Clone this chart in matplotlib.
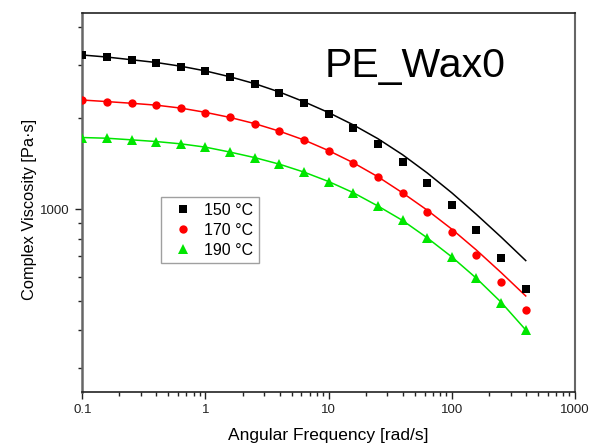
import matplotlib
matplotlib.use("Agg")
import matplotlib.pyplot as plt
from matplotlib.ticker import LogLocator, NullFormatter, FuncFormatter
from matplotlib.lines import Line2D

plt.rcParams['font.family'] = ['Liberation Sans', 'DejaVu Sans']

# Angular frequency [rad/s]
freq = [0.1, 0.158, 0.251, 0.398, 0.631, 1.0, 1.58, 2.51, 3.98, 6.31,
        10.0, 15.8, 25.1, 39.8, 63.1, 100.0, 158.0, 251.0, 398.0]

# Measured complex viscosity [Pa·s]
eta_150 = [3240, 3184, 3119, 3056, 2965, 2862, 2735, 2594, 2428, 2250,
           2065, 1861, 1644, 1434, 1225, 1031, 855, 691, 548]
eta_170 = [2301, 2272, 2245, 2216, 2161, 2090, 2018, 1922, 1814, 1698,
           1565, 1429, 1282, 1133, 983, 840, 705, 577, 466]
eta_190 = [1729, 1721, 1698, 1677, 1648, 1607, 1547, 1484, 1412, 1329,
           1237, 1138, 1026, 920, 806, 696, 592, 492, 401]

# Fitted curves
fit_150 = [3240, 3190, 3125, 3060, 2975, 2870, 2745, 2605, 2445, 2270,
           2090, 1905, 1714, 1517, 1321, 1135, 964, 811, 678]
fit_170 = [2300, 2273, 2244, 2212, 2163, 2094, 2015, 1922, 1815, 1697,
           1565, 1428, 1283, 1135, 995, 861, 735, 619, 518]
fit_190 = [1729, 1720, 1699, 1677, 1648, 1607, 1548, 1484, 1412, 1329,
           1237, 1137, 1027, 920, 806, 697, 593, 494, 400]

labels = ['150 °C', '170 °C', '190 °C']
colors = ['#000000', '#ff0000', '#00e600']
markers = ['s', 'o', '^']
msizes = [5.4, 6.0, 6.6]

fig = plt.figure(figsize=(5.9, 4.44), dpi=100)
ax = fig.add_axes([0.1395, 0.1178, 0.8351, 0.8536])

for eta, fit, c, m, ms in zip([eta_150, eta_170, eta_190],
                              [fit_150, fit_170, fit_190],
                              colors, markers, msizes):
    ax.plot(freq, fit, color=c, lw=1.1, zorder=2)
    ax.plot(freq, eta, linestyle='none', marker=m, markersize=ms,
            color=c, markeredgewidth=0, zorder=3)

ax.set_xscale('log')
ax.set_yscale('log')
ax.set_xlim(0.1, 1000)
ax.set_ylim(250, 4470)

ax.xaxis.set_major_locator(LogLocator(base=10, numticks=10))
ax.xaxis.set_minor_locator(LogLocator(base=10, subs=range(2, 10), numticks=20))
ax.xaxis.set_major_formatter(FuncFormatter(lambda v, p: '{:g}'.format(v)))
ax.xaxis.set_minor_formatter(NullFormatter())
ax.yaxis.set_major_locator(LogLocator(base=10, numticks=10))
ax.yaxis.set_minor_locator(LogLocator(base=10, subs=range(2, 10), numticks=20))
ax.yaxis.set_major_formatter(FuncFormatter(lambda v, p: '{:g}'.format(v)))
ax.yaxis.set_minor_formatter(NullFormatter())

ax.tick_params(which='major', direction='out', length=5, width=1.0,
               labelsize=9.5, pad=4, colors='#222222')
ax.tick_params(which='minor', direction='out', length=3, width=1.0,
               colors='#222222')
ax.tick_params(top=False, right=False, which='both')

for side in ['top', 'bottom', 'right']:
    ax.spines[side].set_color('#222222')
    ax.spines[side].set_linewidth(1.2)
ax.spines['left'].set_color('#666666')
ax.spines['left'].set_linewidth(1.8)
ax.spines['right'].set_color('#666666')
ax.spines['right'].set_linewidth(1.5)

ax.set_xlabel('Angular Frequency [rad/s]', fontsize=12.5)
ax.set_ylabel('Complex Viscosity [Pa·s]', fontsize=11.8)
ax.xaxis.set_label_coords(0.5, -0.096)
ax.yaxis.set_label_coords(-0.092, 0.482)

handles = [Line2D([], [], linestyle='none', marker=m, markersize=ms, color=c,
                  markeredgewidth=0) for m, ms, c in zip(markers, msizes, colors)]
leg = ax.legend(handles, labels, loc='upper left',
                bbox_to_anchor=(161 / 590, 1 - 197 / 444),
                bbox_transform=fig.transFigure, fontsize=11.5,
                frameon=True, fancybox=False, framealpha=1, edgecolor='#a0a0a0',
                handlelength=2.0, handletextpad=0.35, borderpad=0.35,
                labelspacing=0.32, borderaxespad=0, numpoints=1)
leg.get_frame().set_linewidth(1.0)

fig.text(325 / 590, 1 - 76.7 / 444, 'PE_Wax0', fontsize=29.5,
         ha='left', va='baseline', color='black')

fig.savefig('out.png', dpi=100)
